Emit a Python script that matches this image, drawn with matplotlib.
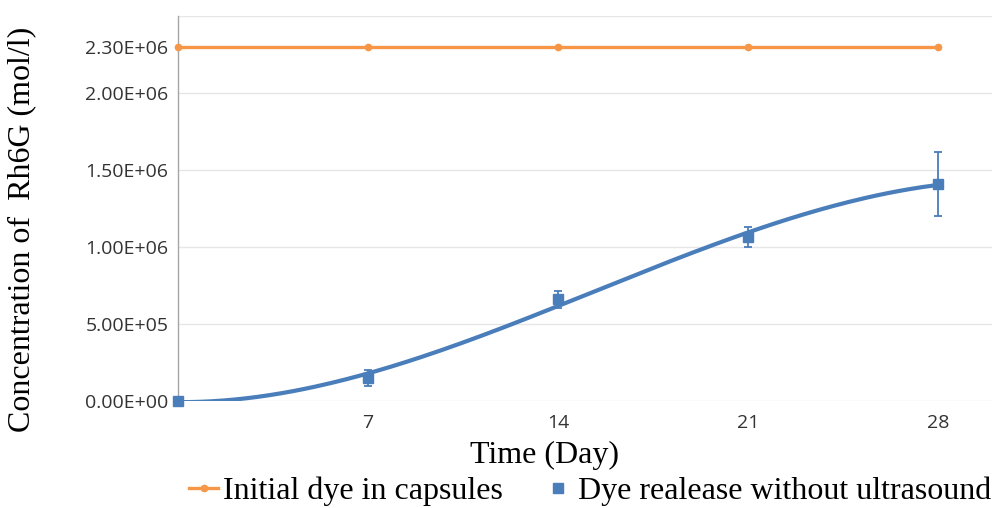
import numpy as np
import matplotlib
matplotlib.use("Agg")
import matplotlib.pyplot as plt
from matplotlib.lines import Line2D

# data
days = [0, 7, 14, 21, 28]
initial_dye = [2.3e6, 2.3e6, 2.3e6, 2.3e6, 2.3e6]
released = [0.0, 1.5e5, 6.6e5, 1.065e6, 1.41e6]
released_err = [0.0, 0.5e5, 0.55e5, 0.065e6, 0.21e6]

y_ticks = [0, 5e5, 1e6, 1.5e6, 2e6, 2.3e6]
y_tick_labels = ["0.00E+00", "5.00E+05", "1.00E+06", "1.50E+06", "2.00E+06", "2.30E+06"]
grid_levels = [0, 5e5, 1e6, 1.5e6, 2e6, 2.5e6]
x_ticks = [7, 14, 21, 28]

ORANGE = "#F79646"
BLUE = "#4A7EBB"
SERIF = "Liberation Serif"
SANS = "Open Sans"

fig = plt.figure(figsize=(9.92, 5.08), dpi=100)
ax = fig.add_axes([178 / 992, 1 - 401 / 508, 1 - 178 / 992, (401 - 16) / 508])

for level in grid_levels:
    ax.axhline(level, color="#E6E6E6", linewidth=1.0, zorder=0)

# cubic polynomial trendline through the measured points
coef = np.polyfit(days, released, 3)
xs = np.linspace(days[0], days[-1], 200)
ax.plot(xs, np.polyval(coef, xs), color=BLUE, linewidth=3.0, zorder=2,
        solid_capstyle="round")

ax.plot(days, initial_dye, color=ORANGE, linewidth=2.4, marker="o",
        markersize=4.5, zorder=3, clip_on=False)
ax.errorbar(days, released, yerr=released_err, fmt="s", color=BLUE,
            markersize=6.5, elinewidth=1.3, capsize=3, capthick=1.3,
            zorder=4, clip_on=False)

ax.set_xlim(0, 30)
ax.set_ylim(0, 2.5e6)
ax.set_xticks(x_ticks)
ax.set_xticklabels([str(d) for d in x_ticks], fontfamily=SANS, fontsize=14)
ax.set_yticks(y_ticks)
ax.set_yticklabels(y_tick_labels, fontfamily=SANS, fontsize=14)
ax.tick_params(axis="both", length=0, colors="#333333")
ax.tick_params(axis="x", pad=9)
ax.tick_params(axis="y", pad=7)

for side in ["top", "right", "bottom"]:
    ax.spines[side].set_visible(False)
ax.spines["left"].set_color("#A6A6A6")
ax.spines["left"].set_linewidth(1.0)

fig.text(545 / 992, 1 - 455 / 508, "Time (Day)", ha="center", va="center",
         fontfamily=SERIF, fontsize=23)
fig.text(22 / 992, 1 - 229 / 508, "Concentration of  Rh6G (mol/l)", rotation=90,
         ha="center", va="center", fontfamily=SERIF, fontsize=23)

handles = [
    Line2D([], [], color=ORANGE, linewidth=2.4, marker="o", markersize=4.5),
    Line2D([], [], color=BLUE, linestyle="none", marker="s", markersize=6.5),
]
labels = ["Initial dye in capsules", "Dye realease without ultrasound"]
fig.legend(handles, labels, loc="center", bbox_to_anchor=(590 / 992, 1 - 491 / 508),
           ncol=2, frameon=False, prop={"family": SERIF, "size": 23},
           handlelength=0.9, handletextpad=0.15, columnspacing=1.3,
           borderpad=0, borderaxespad=0)

fig.savefig("out.png", dpi=100)
